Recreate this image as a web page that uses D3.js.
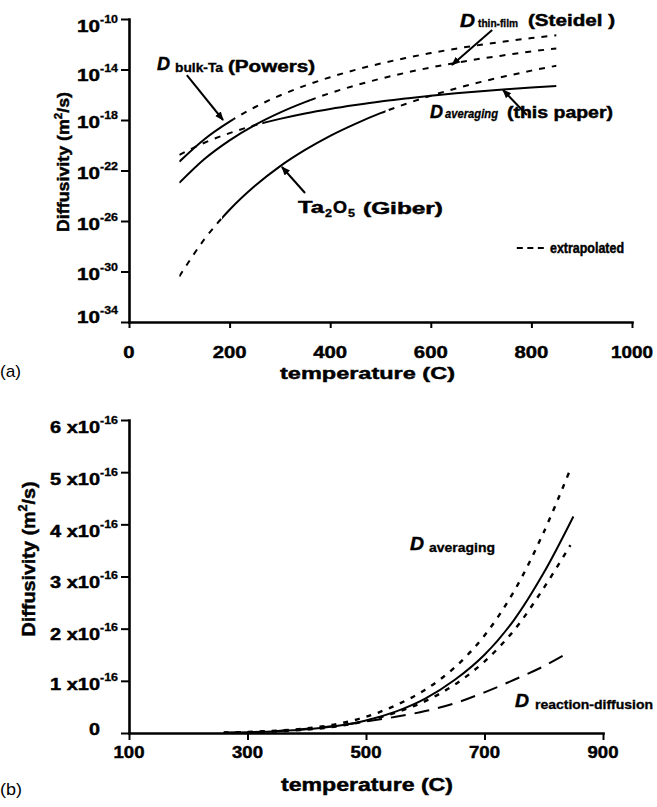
<!DOCTYPE html>
<html><head><meta charset="utf-8">
<script src="https://cdn.jsdelivr.net/npm/d3@7"></script>
<style>body{margin:0;background:#fff} svg{display:block}</style>
</head><body>
<svg id="c" width="657" height="807"></svg>
<script>
// ---------------- data: panel (a), log10 of diffusivity (m^2/s) ----------------
const tempsA = [100,150,200,250,300,350,400,450,500,550,600,650,700,750,800,850];
const logPowers    = [-21.30,-19.52,-18.13,-16.99,-16.06,-15.28,-14.61,-14.03,-13.53,-13.09,-12.70,-12.35,-12.04,-11.76,-11.51,-11.28];
const logSteidel   = [-22.98,-21.09,-19.61,-18.40,-17.41,-16.58,-15.87,-15.26,-14.73,-14.26,-13.84,-13.47,-13.14,-12.85,-12.57,-12.33];
const logAveraging = [-20.77,-19.80,-19.04,-18.42,-17.91,-17.48,-17.12,-16.81,-16.53,-16.30,-16.08,-15.89,-15.72,-15.57,-15.43,-15.31];
const logGiber     = [-30.39,-27.44,-25.11,-23.23,-21.67,-20.37,-19.25,-18.30,-17.46,-16.73,-16.08,-15.50,-14.98,-14.52,-14.09,-13.70];
// measured (solid) vs extrapolated (dashed) temperature ranges
const segPowers    = [[100,207,'solid'],[207,850,'dash']];
const segSteidel   = [[100,360,'solid'],[360,850,'dash']];
const segAveraging = [[100,265,'dash'],[265,850,'solid']];
const segGiber     = [[100,185,'dash'],[185,510,'solid'],[510,850,'dash']];
const xTicksA = [0,200,400,600,800,1000];
const yExpTicksA = [-10,-14,-18,-22,-26,-30,-34];

// ---------------- data: panel (b), diffusivity in units of 1e-16 m^2/s ----------------
const tempsB      = [260,300,350,400,450,500,550,600,650,700,750,800,850];
const avgB        = [0.006,0.015,0.035,0.07,0.133,0.24,0.41,0.66,1.02,1.50,2.17,3.07,4.15];
const tempsBDot   = [260,300,350,400,450,500,550,600,650,700,750,800,845];
const upperB      = [0.008,0.02,0.045,0.09,0.17,0.31,0.53,0.83,1.26,1.87,2.72,3.85,5.06];
const lowerB      = [0.005,0.013,0.032,0.065,0.125,0.23,0.39,0.61,0.93,1.37,1.97,2.78,3.60];
const tempsBRD    = [260,300,350,400,450,500,550,600,650,700,750,800,840];
const reactDiffB  = [0.005,0.015,0.04,0.08,0.14,0.22,0.31,0.42,0.57,0.78,1.02,1.28,1.53];
const xTicksB = [100,300,500,700,900];
const yTicksB = [0,1,2,3,4,5,6];

// ---------------- helpers ----------------
const FONT = "'Liberation Sans', Arial, Helvetica, sans-serif";
const svg = d3.select('#c');
const defs = svg.append('defs');
defs.append('marker').attr('id','ah').attr('viewBox','0 -5 10 10')
  .attr('refX',9).attr('refY',0).attr('markerWidth',9).attr('markerHeight',9)
  .attr('markerUnits','userSpaceOnUse').attr('orient','auto')
  .append('path').attr('d','M0,-4L10,0L0,4Z').attr('fill','#000');

function label(g, x, y, s, o = {}) {
  const t = g.append('text').attr('x', x).attr('y', y).text(s)
    .attr('font-family', FONT)
    .attr('font-size', o.size || 16)
    .attr('font-weight', o.weight || 'bold')
    .attr('font-style', o.italic ? 'italic' : 'normal')
    .attr('text-anchor', o.anchor || 'start')
    .attr('fill', '#000');
  if ((o.weight || 'bold') === 'bold') t.attr('stroke', '#000').attr('stroke-width', o.sw == null ? 0.45 : o.sw);
  if (o.w) t.attr('textLength', o.w).attr('lengthAdjust', 'spacingAndGlyphs');
  return t;
}
function styleAxis(g) {
  g.select('.domain').attr('stroke-width', 2.6).attr('stroke-linecap','square');
  g.selectAll('.tick line').attr('stroke-width', 2);
}
let clipId = 0;
function drawSegments(g, pts, segs, x, line, top, bottom) {
  segs.forEach(([a, b, kind]) => {
    const id = 'clip' + (clipId++);
    defs.append('clipPath').attr('id', id).append('rect')
      .attr('x', x(a)).attr('y', top).attr('width', x(b) - x(a)).attr('height', bottom - top);
    g.append('path').datum(pts).attr('d', line)
      .attr('fill', 'none').attr('stroke', '#000').attr('stroke-width', 2)
      .attr('stroke-dasharray', kind === 'dash' ? '6,7' : null)
      .attr('clip-path', `url(#${id})`);
  });
}

// ================= PANEL (a) =================
const xA = d3.scaleLinear().domain([0, 1000]).range([129, 632]);
const yA = d3.scaleLog().domain([1e-34, 1e-10]).range([322, 19]);
const gA = svg.append('g');

const axA_x = gA.append('g').attr('transform', `translate(0,${yA(1e-34)})`)
  .call(d3.axisBottom(xA).tickValues(xTicksA).tickSize(6).tickSizeOuter(0).tickFormat(''));
styleAxis(axA_x);
const axA_y = gA.append('g').attr('transform', `translate(${xA(0)},0)`)
  .call(d3.axisLeft(yA).tickValues(yExpTicksA.map(e => Math.pow(10, e))).tickSize(8).tickSizeOuter(0).tickFormat(''));
styleAxis(axA_y);

xTicksA.forEach(v => {
  const s = String(v);
  label(gA, xA(v), 358, s, {size: 17, anchor: 'middle', w: s.length === 4 ? 42 : s.length * 11.3});
});
const offA = [13, 11, 8, 8, 9, 8, 1];
yExpTicksA.forEach((e, i) => {
  const y = yA(Math.pow(10, e)) + offA[i];
  label(gA, 100, y, '10', {size: 17, anchor: 'end', w: 23});
  label(gA, 100, y - 9, String(e), {size: 11, w: 18, sw: 0.3});
});
label(gA, xA(500) - 13, 379, 'temperature (C)', {size: 17, anchor: 'middle', w: 175});
// y title
const tA = gA.append('text').attr('transform', 'translate(69,162) rotate(-90)')
  .attr('font-family', FONT).attr('font-size', 17).attr('font-weight', 'bold')
  .attr('stroke', '#000').attr('stroke-width', 0.45)
  .attr('text-anchor', 'middle').attr('textLength', 140).attr('lengthAdjust', 'spacingAndGlyphs');
tA.append('tspan').text('Diffusivity (m');
tA.append('tspan').attr('dy', -7).attr('font-size', 11).text('2');
tA.append('tspan').attr('dy', 7).text('/s)');
label(gA, 0, 377, '(a)', {size: 17, weight: 'normal', w: 21});

const lineA = d3.line().x(d => xA(d[0])).y(d => yA(Math.pow(10, d[1]))).curve(d3.curveMonotoneX);
const curvesA = [[logPowers, segPowers], [logSteidel, segSteidel], [logAveraging, segAveraging], [logGiber, segGiber]];
curvesA.forEach(([vals, segs]) => {
  const pts = tempsA.map((t, i) => [t, vals[i]]);
  drawSegments(gA, pts, segs, xA, lineA, 10, 321);
});

// annotation arrows (data coordinates: temperature, log10 D)
const arrowsA = [
  [[115, -14.44], [187, -18.0]],
  [[722, -10.87], [642, -13.64]],
  [[791, -17.60], [743.5, -15.62]],
  [[350, -23.78], [304, -21.72]]
];
arrowsA.forEach(([p, q]) => {
  gA.append('line').attr('x1', xA(p[0])).attr('y1', yA(Math.pow(10, p[1])))
    .attr('x2', xA(q[0])).attr('y2', yA(Math.pow(10, q[1])))
    .attr('stroke', '#000').attr('stroke-width', 2).attr('marker-end', 'url(#ah)');
});

// labels panel (a)
label(gA, 157, 70, 'D', {size: 18, italic: true, w: 13});
label(gA, 175, 72, 'bulk-Ta', {size: 12, w: 48, sw: 0.3});
label(gA, 228, 72, '(Powers)', {size: 16, w: 87});

label(gA, 460, 27, 'D', {size: 18, italic: true, w: 15});
label(gA, 478, 27, 'thin-film', {size: 11, w: 40, sw: 0.3});
label(gA, 528, 26, '(Steidel )', {size: 16, w: 87});

label(gA, 430, 118, 'D', {size: 18, italic: true, w: 13});
label(gA, 445, 118, 'averaging', {size: 12, italic: true, w: 53, sw: 0.3});
label(gA, 507, 118, '(this paper)', {size: 16, w: 106});

label(gA, 298, 213, 'Ta', {size: 16, w: 26});
label(gA, 325, 217, '2', {size: 11, w: 7, sw: 0.3});
label(gA, 333, 213, 'O', {size: 16, w: 14});
label(gA, 348, 217, '5', {size: 11, w: 7, sw: 0.3});
label(gA, 363, 214, '(Giber)', {size: 16, w: 80});

// legend
gA.append('line').attr('x1', xA(771)).attr('x2', xA(825))
  .attr('y1', yA(Math.pow(10, -28.14))).attr('y2', yA(Math.pow(10, -28.14)))
  .attr('stroke', '#000').attr('stroke-width', 2).attr('stroke-dasharray', '6,4.5');
label(gA, 550, 253, 'extrapolated', {size: 14, w: 74});

// ================= PANEL (b) =================
const xB = d3.scaleLinear().domain([100, 900]).range([129, 603]);
const yB = d3.scaleLinear().domain([0, 6]).range([733, 420]);
const gB = svg.append('g');

const axB_x = gB.append('g').attr('transform', `translate(0,${yB(0)})`)
  .call(d3.axisBottom(xB).tickValues(xTicksB).tickSize(7).tickSizeOuter(0).tickFormat(''));
styleAxis(axB_x);
const axB_y = gB.append('g').attr('transform', `translate(${xB(100)},0)`)
  .call(d3.axisLeft(yB).tickValues(yTicksB).tickSize(8).tickSizeOuter(0).tickFormat(''));
styleAxis(axB_y);

xTicksB.forEach(v => label(gB, xB(v), 758, String(v), {size: 17, anchor: 'middle', w: 31}));
const offB = [2, 9, 11, 11, 13, 13, 13];
yTicksB.forEach((v, i) => {
  const y = yB(v) + offB[i];
  if (v === 0) {
    label(gB, 100, y, '0', {size: 17, anchor: 'end', w: 11});
  } else {
    label(gB, 100, y, v + ' x10', {size: 17, anchor: 'end', w: 50});
    label(gB, 100, y - 9, '-16', {size: 11, w: 18, sw: 0.3});
  }
});
label(gB, xB(500) + 1, 791, 'temperature (C)', {size: 18, anchor: 'middle', w: 172});
const tB = gB.append('text').attr('transform', 'translate(35,559) rotate(-90)')
  .attr('font-family', FONT).attr('font-size', 19).attr('font-weight', 'bold')
  .attr('stroke', '#000').attr('stroke-width', 0.45)
  .attr('text-anchor', 'middle').attr('textLength', 155).attr('lengthAdjust', 'spacingAndGlyphs');
tB.append('tspan').text('Diffusivity (m');
tB.append('tspan').attr('dy', -8).attr('font-size', 12).text('2');
tB.append('tspan').attr('dy', 8).text('/s)');
label(gB, 0, 795, '(b)', {size: 17, weight: 'normal', w: 22});

const lineB = d3.line().x(d => xB(d[0])).y(d => yB(d[1])).curve(d3.curveCatmullRom.alpha(0.5));
const seriesB = [
  [tempsB, avgB, null, 2],
  [tempsBDot, upperB, '5,7', 2.4],
  [tempsBDot, lowerB, '5,7', 2.4],
  [tempsBRD, reactDiffB, '15,9', 2]
];
seriesB.forEach(([ts, vals, dash, sw]) => {
  gB.append('path').datum(ts.map((t, i) => [t, vals[i]])).attr('d', lineB)
    .attr('fill', 'none').attr('stroke', '#000').attr('stroke-width', sw)
    .attr('stroke-dasharray', dash);
});

label(gB, 410, 550, 'D', {size: 18, italic: true, w: 14});
label(gB, 429, 552, 'averaging', {size: 12.5, w: 66, sw: 0.3});
label(gB, 515, 707, 'D', {size: 18, italic: true, w: 14});
label(gB, 535, 709, 'reaction-diffusion', {size: 12, w: 118, sw: 0.3});
</script>
</body></html>
